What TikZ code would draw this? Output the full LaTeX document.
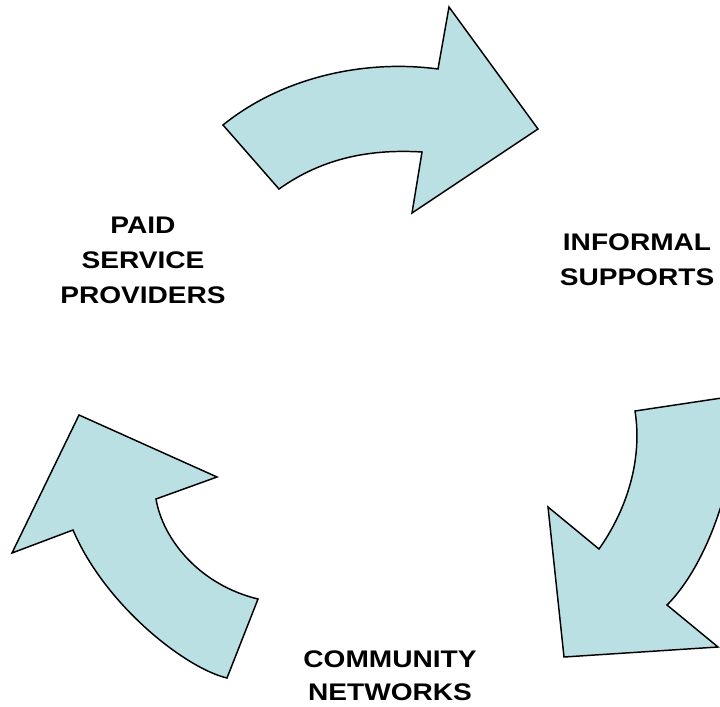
\documentclass[tikz,border=0pt]{standalone}
\usepackage{fontspec}
\newfontfamily\lblfont{Liberation Sans}[FakeStretch=1.17]
\definecolor{arrowfill}{RGB}{187,224,227}
\tikzset{
  cyclearrow/.style={draw=black, line width=1.1pt, fill=arrowfill, line join=miter},
  lbl/.style={inner sep=0pt, align=center, anchor=north, font=\lblfont\bfseries\fontsize{18}{26.25}\selectfont}
}
\begin{document}
\begin{tikzpicture}[x=0.75pt,y=-0.75pt]
\useasboundingbox (0,0) rectangle (720,706);
\clip (0,0) rectangle (720,706);
% top arrow
\draw[cyclearrow] (223,125) .. controls (281,78) and (363,59) .. (438,69) -- (449,7) -- (538,129) -- (412,213) -- (422,152) .. controls (372,149) and (324,157) .. (279,189) -- cycle;
% right arrow
\draw[cyclearrow] (635,411) -- (735,396) .. controls (742,460) and (712,560) .. (667,605) -- (718,647) -- (564,657) -- (548,507) -- (599,549) .. controls (630,505) and (642,455) .. (635,411) -- cycle;
% left arrow
\draw[cyclearrow] (79,415) -- (217,477) -- (156,499) .. controls (163,540) and (200,585) .. (258,599) -- (227,678) .. controls (185,668) and (105,605) .. (73,530) -- (12,553) -- cycle;
% labels
\node[lbl] (paid) at (143,217) {PAID\\SERVICE\\PROVIDERS};
\node[lbl] (informal) at (637,233) {INFORMAL\\SUPPORTS};
\node[lbl, font=\lblfont\bfseries\fontsize{18}{24.75}\selectfont] (community) at (390,650) {COMMUNITY\\NETWORKS};
\end{tikzpicture}
\end{document}
